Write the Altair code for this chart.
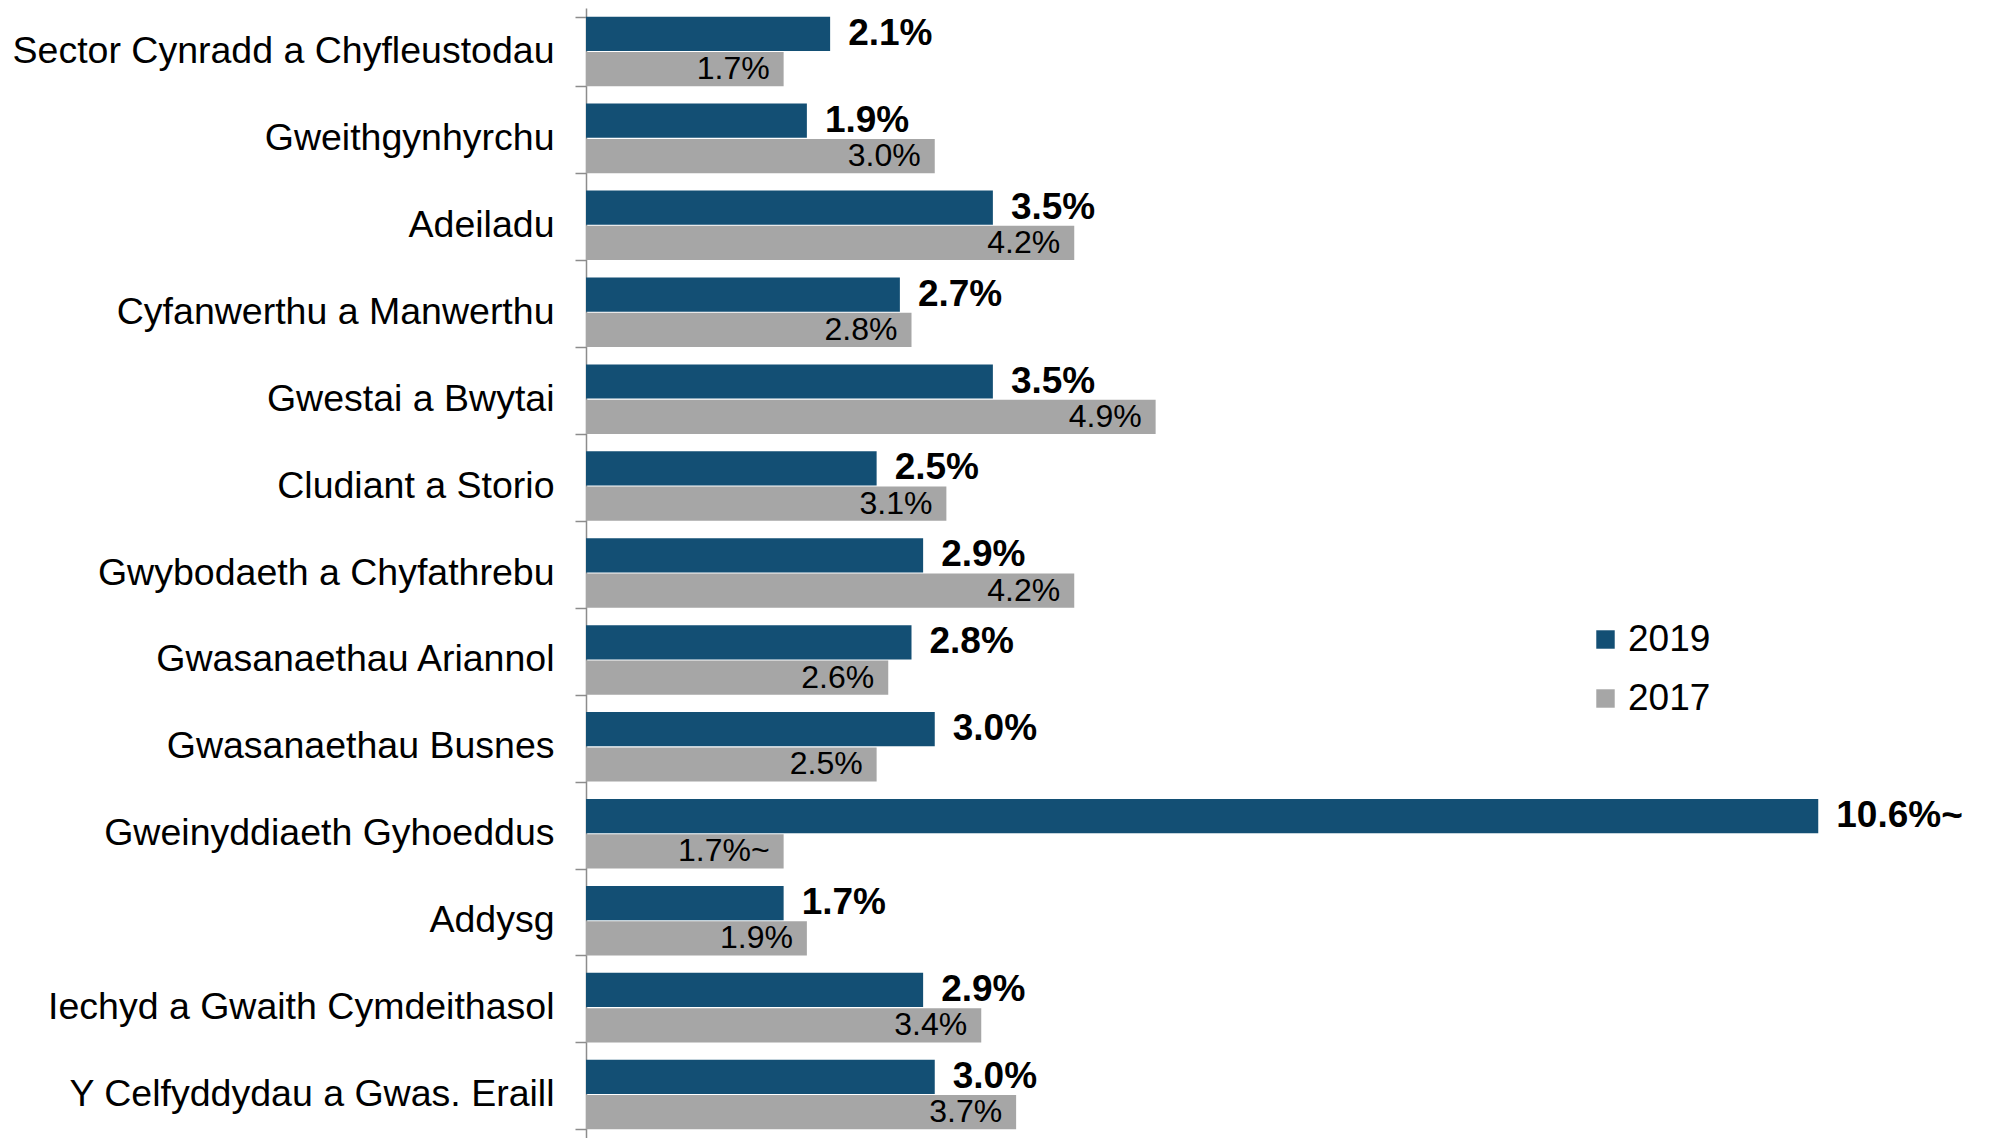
import altair as alt
import pandas as pd

categories = [
    "Sector Cynradd a Chyfleustodau",
    "Gweithgynhyrchu",
    "Adeiladu",
    "Cyfanwerthu a Manwerthu",
    "Gwestai a Bwytai",
    "Cludiant a Storio",
    "Gwybodaeth a Chyfathrebu",
    "Gwasanaethau Ariannol",
    "Gwasanaethau Busnes",
    "Gweinyddiaeth Gyhoeddus",
    "Addysg",
    "Iechyd a Gwaith Cymdeithasol",
    "Y Celfyddydau a Gwas. Eraill",
]
values_2019 = [2.1, 1.9, 3.5, 2.7, 3.5, 2.5, 2.9, 2.8, 3.0, 10.6, 1.7, 2.9, 3.0]
values_2017 = [1.7, 3.0, 4.2, 2.8, 4.9, 3.1, 4.2, 2.6, 2.5, 1.7, 1.9, 3.4, 3.7]
labels_2019 = ["2.1%", "1.9%", "3.5%", "2.7%", "3.5%", "2.5%", "2.9%", "2.8%",
               "3.0%", "10.6%~", "1.7%", "2.9%", "3.0%"]
labels_2017 = ["1.7%", "3.0%", "4.2%", "2.8%", "4.9%", "3.1%", "4.2%", "2.6%",
               "2.5%", "1.7%~", "1.9%", "3.4%", "3.7%"]
years = ["2019", "2017"]
colors = ["#134F74", "#A6A6A6"]

rows = []
for c, v, l in zip(categories, values_2019, labels_2019):
    rows.append({"category": c, "year": "2019", "value": v, "label": l})
for c, v, l in zip(categories, values_2017, labels_2017):
    rows.append({"category": c, "year": "2017", "value": v, "label": l})
df = pd.DataFrame(rows)

FONT = "Liberation Sans"

y_enc = alt.Y(
    "category:N",
    sort=categories,
    scale=alt.Scale(paddingInner=0.2, paddingOuter=0.1),
    axis=alt.Axis(
        title=None,
        tickBand="extent",
        tickSize=11,
        tickColor="#8C8C8C",
        tickWidth=1.5,
        domainColor="#8C8C8C",
        domainWidth=1.5,
        labelFont=FONT,
        labelFontSize=37.5,
        labelColor="#000000",
        labelPadding=21,
        labelLimit=700,
        grid=False,
    ),
)
yoff = alt.YOffset("year:N", sort=years, scale=alt.Scale(domain=years, paddingInner=0.03))
x_enc = alt.X("value:Q", scale=alt.Scale(domain=[0, 12], nice=False, zero=True), axis=None)

base = alt.Chart(df)

bars = base.mark_bar().encode(
    x=x_enc,
    y=y_enc,
    yOffset=yoff,
    color=alt.Color(
        "year:N",
        scale=alt.Scale(domain=years, range=colors),
        legend=alt.Legend(
            title=None,
            orient="none",
            legendX=1001,
            legendY=613,
            symbolType="square",
            symbolSize=340,
            symbolStrokeWidth=0,
            labelFont=FONT,
            labelFontSize=37,
            labelColor="#000000",
            labelOffset=4,
            rowPadding=21,
            padding=0,
        ),
    ),
)

text19 = base.transform_filter(alt.datum.year == "2019").mark_text(
    align="left", baseline="middle", dx=18, font=FONT, fontSize=37,
    fontWeight="bold", color="#000000"
).encode(x=x_enc, y=y_enc, yOffset=yoff, text="label:N")

text17 = base.transform_filter(alt.datum.year == "2017").mark_text(
    align="right", baseline="middle", dx=-14, font=FONT, fontSize=32,
    color="#000000"
).encode(x=x_enc, y=y_enc, yOffset=yoff, text="label:N")

chart = (
    alt.layer(bars, text19, text17)
    .properties(
        width=1395,
        height=1130,
        background="#FFFFFF",
        autosize=alt.AutoSizeParams(type="none"),
        padding={"left": 578, "top": 0, "right": 0, "bottom": 0},
    )
    .configure_view(strokeWidth=0, stroke="transparent")
)

chart.save("out.html", embed_options={"renderer": "svg", "actions": False})
